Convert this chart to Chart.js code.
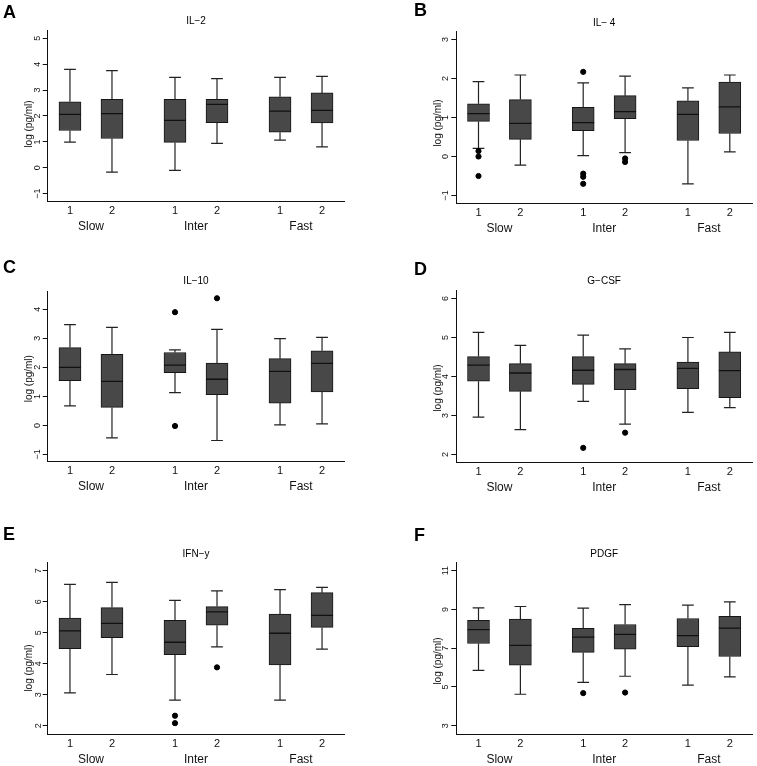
<!DOCTYPE html>
<html lang="en">
<head>
<meta charset="UTF-8">
<title>Cytokines by speed group</title>
<script src="https://cdn.jsdelivr.net/npm/chart.js@4.4.1/dist/chart.umd.min.js"></script>
<style>
  body { margin: 0; background: #fff; }
  #page { position: relative; width: 757px; height: 766px; overflow: hidden; }
  .panel { position: absolute; }
  .letter { position: absolute; font: bold 18px "Liberation Sans", Arial, sans-serif; line-height: 18px; color: #000; }
</style>
</head>
<body>
<div id="page">
  <div class="panel" style="left:0;top:0;width:378px;height:255px"><canvas id="cA"></canvas></div>
  <div class="panel" style="left:378px;top:0;width:379px;height:255px"><canvas id="cB"></canvas></div>
  <div class="panel" style="left:0;top:255px;width:378px;height:255px"><canvas id="cC"></canvas></div>
  <div class="panel" style="left:378px;top:255px;width:379px;height:255px"><canvas id="cD"></canvas></div>
  <div class="panel" style="left:0;top:510px;width:378px;height:256px"><canvas id="cE"></canvas></div>
  <div class="panel" style="left:378px;top:510px;width:379px;height:256px"><canvas id="cF"></canvas></div>

  <div class="letter" style="left:3px;top:3px">A</div>
  <div class="letter" style="left:414px;top:1px">B</div>
  <div class="letter" style="left:3px;top:258px">C</div>
  <div class="letter" style="left:414px;top:260px">D</div>
  <div class="letter" style="left:3px;top:525px">E</div>
  <div class="letter" style="left:414px;top:526px">F</div>
</div>

<script>
    // positions des boites sur l'axe x (2 par groupe)
    const positions = [1, 2, 3.5, 4.5, 6, 7];
    const subLabels = ['1', '2', '1', '2', '1', '2'];
    const groups = ['Slow', 'Inter', 'Fast'];
    const groupPos = [1.5, 4, 6.5];

    // [moustache bas, Q1, mediane, Q3, moustache haut]
    const il2 = [
        [0.99, 1.44, 2.06, 2.55, 3.80],
        [-0.17, 1.13, 2.09, 2.64, 3.75],
        [-0.10, 0.98, 1.83, 2.64, 3.49],
        [0.94, 1.74, 2.45, 2.64, 3.44],
        [1.07, 1.37, 2.19, 2.74, 3.49],
        [0.81, 1.73, 2.22, 2.89, 3.53]
    ];
    const il2Out = [[], [], [], [], [], []];
    const il2Ticks = [-1, 0, 1, 2, 3, 4, 5];

    const il4 = [
        [0.21, 0.90, 1.10, 1.35, 1.92],
        [-0.22, 0.44, 0.85, 1.46, 2.09],
        [0.02, 0.66, 0.87, 1.26, 1.89],
        [0.10, 0.97, 1.15, 1.56, 2.06],
        [-0.70, 0.41, 1.08, 1.43, 1.76],
        [0.12, 0.59, 1.27, 1.91, 2.09]
    ];
    const il4Out = [[0.14, 0.0, -0.50], [], [2.17, -0.44, -0.52, -0.70], [-0.05, -0.14], [], []];
    const il4Ticks = [-1, 0, 1, 2, 3];

    const il10 = [
        [0.67, 1.54, 2.00, 2.68, 3.47],
        [-0.43, 0.62, 1.52, 2.45, 3.38],
        [1.13, 1.82, 2.08, 2.51, 2.60],
        [-0.52, 1.06, 1.59, 2.15, 3.31],
        [0.02, 0.77, 1.86, 2.30, 2.99],
        [0.05, 1.15, 2.14, 2.57, 3.03]
    ];
    const il10Out = [[], [], [3.90, -0.02], [4.38], [], []];
    const il10Ticks = [-1, 0, 1, 2, 3, 4];

    const gcsf = [
        [2.96, 3.88, 4.29, 4.51, 5.13],
        [2.64, 3.62, 4.09, 4.33, 4.80],
        [3.36, 3.80, 4.16, 4.51, 5.06],
        [2.78, 3.66, 4.18, 4.33, 4.71],
        [3.08, 3.69, 4.21, 4.37, 5.00],
        [3.20, 3.46, 4.15, 4.63, 5.13]
    ];
    const gcsfOut = [[], [], [2.17], [2.56], [], []];
    const gcsfTicks = [2, 3, 4, 5, 6];

    const ifn = [
        [3.06, 4.48, 5.06, 5.47, 6.56],
        [3.65, 4.84, 5.30, 5.81, 6.62],
        [2.82, 4.29, 4.69, 5.40, 6.04],
        [4.54, 5.24, 5.67, 5.84, 6.35],
        [2.82, 3.96, 4.98, 5.60, 6.39],
        [4.47, 5.17, 5.56, 6.29, 6.46]
    ];
    const ifnOut = [[], [], [2.32, 2.08], [3.88], [], []];
    const ifnTicks = [2, 3, 4, 5, 6, 7];

    const pdgf = [
        [5.85, 7.24, 7.96, 8.43, 9.08],
        [4.62, 6.12, 7.14, 8.50, 9.15],
        [5.23, 6.78, 7.57, 8.02, 9.07],
        [5.55, 6.95, 7.71, 8.22, 9.25],
        [5.09, 7.07, 7.65, 8.53, 9.22],
        [5.52, 6.57, 8.03, 8.64, 9.39]
    ];
    const pdgfOut = [[], [], [4.68], [4.71], [], []];
    const pdgfTicks = [3, 5, 7, 9, 11];

    // mise en page de chaque panneau (coordonnees de la page)
    const panneaux = [
        { id: 'cA', titre: 'IL\u22122', box: il2, out: il2Out, ticks: il2Ticks, min: -1.31, max: 5.32,
          cx: 0, cy: 0, w: 378, h: 255, L: 47.7, T: 30, R: 344.3, B: 201.7, titreY: 21.7, pad: 0, yTitreY: 124 },
        { id: 'cB', titre: 'IL\u2212 4', box: il4, out: il4Out, ticks: il4Ticks, min: -1.2, max: 3.2,
          cx: 378, cy: 0, w: 379, h: 255, L: 456.3, T: 31.7, R: 752.3, B: 203.3, titreY: 23.3, pad: 1, yTitreY: 123 },
        { id: 'cC', titre: 'IL\u221210', box: il10, out: il10Out, ticks: il10Ticks, min: -1.25, max: 4.63,
          cx: 0, cy: 255, w: 378, h: 255, L: 47.7, T: 291, R: 344.3, B: 461.7, titreY: 281.7, pad: 0, yTitreY: 378.7 },
        { id: 'cD', titre: 'G\u2212CSF', box: gcsf, out: gcsfOut, ticks: gcsfTicks, min: 1.8, max: 6.2,
          cx: 378, cy: 255, w: 379, h: 255, L: 456.3, T: 290.7, R: 752.3, B: 462.3, titreY: 281, pad: 3, yTitreY: 388 },
        { id: 'cE', titre: 'IFN\u2212y', box: ifn, out: ifnOut, ticks: ifnTicks, min: 1.73, max: 7.27,
          cx: 0, cy: 510, w: 378, h: 256, L: 47.7, T: 562.3, R: 344.3, B: 734, titreY: 554.3, pad: 2, yTitreY: 668 },
        { id: 'cF', titre: 'PDGF', box: pdgf, out: pdgfOut, ticks: pdgfTicks, min: 2.57, max: 11.43,
          cx: 378, cy: 510, w: 379, h: 256, L: 456.3, T: 562.3, R: 752.3, B: 734, titreY: 554.3, pad: 1, yTitreY: 661 }
    ];

    const capHalf = 0.14;
    const boxHalf = 0.262;
    const fonte = '"Liberation Sans", Arial, sans-serif';

    function moustaches(box) {
        let pts = [];
        box.forEach((b, i) => {
            const x = positions[i];
            pts.push({ x: x, y: b[3] }, { x: x, y: b[4] }, { x: x, y: null });
            pts.push({ x: x - capHalf, y: b[4] }, { x: x + capHalf, y: b[4] }, { x: x, y: null });
            pts.push({ x: x, y: b[1] }, { x: x, y: b[0] }, { x: x, y: null });
            pts.push({ x: x - capHalf, y: b[0] }, { x: x + capHalf, y: b[0] }, { x: x, y: null });
        });
        return pts;
    }

    function medianes(box) {
        let pts = [];
        box.forEach((b, i) => {
            const x = positions[i];
            pts.push({ x: x - boxHalf, y: b[2] }, { x: x + boxHalf, y: b[2] }, { x: x, y: null });
        });
        return pts;
    }

    function pointsAberrants(out) {
        let pts = [];
        out.forEach((vals, i) => {
            vals.forEach(v => pts.push({ x: positions[i], y: v }));
        });
        return pts;
    }

    // titre de l'axe y, pas toujours centre sur l'axe dans l'original
    const tituloY = {
        id: 'tituloY',
        afterDraw(chart, args, opts) {
            const c = chart.ctx;
            const ys = chart.scales.y;
            c.save();
            c.translate(ys.right - 18.5, opts.yc);
            c.rotate(-Math.PI / 2);
            c.textAlign = 'center';
            c.textBaseline = 'middle';
            c.fillStyle = '#111';
            c.font = '10px ' + fonte;
            c.fillText(opts.texte, 0, 0);
            c.restore();
        }
    };

    function plotarPainel(p) {
        const yLarg = p.L - p.cx;
        const xH = 15;
        const x2H = (p.cy + p.h) - p.B - xH;
        const tTop = p.titreY - p.cy - 6;
        const tBot = (p.T - p.cy) - tTop - 12;

        const ctx = document.getElementById(p.id).getContext('2d');
        new Chart(ctx, {
            type: 'bar',
            data: {
                datasets: [
                    {
                        type: 'bar',
                        data: p.box.map((b, i) => ({ x: positions[i], y: [b[1], b[3]] })),
                        backgroundColor: '#484848',
                        borderColor: '#161616',
                        borderWidth: 1,
                        borderSkipped: false,
                        barThickness: 22,
                        order: 2
                    },
                    {
                        type: 'line',
                        data: moustaches(p.box),
                        borderColor: '#222',
                        borderWidth: 1.2,
                        pointRadius: 0,
                        spanGaps: false,
                        tension: 0,
                        order: 3
                    },
                    {
                        type: 'line',
                        data: medianes(p.box),
                        borderColor: '#111',
                        borderWidth: 1.3,
                        pointRadius: 0,
                        spanGaps: false,
                        tension: 0,
                        order: 1
                    },
                    {
                        type: 'scatter',
                        data: pointsAberrants(p.out),
                        backgroundColor: '#000',
                        borderColor: '#000',
                        pointRadius: 2.6,
                        order: 0
                    }
                ]
            },
            plugins: [tituloY],
            options: {
                responsive: true,
                maintainAspectRatio: false,
                devicePixelRatio: 1,
                animation: false,
                events: [],
                layout: { padding: { left: 0, top: 0, bottom: 0, right: (p.cx + p.w) - p.R } },
                plugins: {
                    legend: { display: false },
                    tooltip: { enabled: false },
                    tituloY: { texte: 'log (pg/ml)', yc: p.yTitreY - p.cy },
                    title: {
                        display: true,
                        text: p.titre,
                        fullSize: false,
                        color: '#000',
                        font: { family: fonte, size: 10, weight: 'normal' },
                        padding: { top: tTop, bottom: tBot }
                    }
                },
                scales: {
                    x: {
                        type: 'linear',
                        position: 'bottom',
                        min: 0.47,
                        max: 7.53,
                        offset: false,
                        weight: 0,
                        grid: { display: false, drawTicks: false },
                        border: { display: true, color: '#111', width: 1 },
                        afterBuildTicks: s => { s.ticks = positions.map(v => ({ value: v })); },
                        afterFit: s => { s.height = xH; },
                        ticks: {
                            autoSkip: false,
                            maxRotation: 0,
                            padding: 3,
                            color: '#111',
                            font: { family: fonte, size: 11 },
                            callback: (v, i) => subLabels[i]
                        }
                    },
                    x2: {
                        type: 'linear',
                        position: 'bottom',
                        min: 0.47,
                        max: 7.53,
                        offset: false,
                        weight: 1,
                        grid: { display: false, drawTicks: false },
                        border: { display: false },
                        afterBuildTicks: s => { s.ticks = groupPos.map(v => ({ value: v })); },
                        afterFit: s => { s.height = x2H; },
                        ticks: {
                            autoSkip: false,
                            maxRotation: 0,
                            padding: 3,
                            color: '#111',
                            font: { family: fonte, size: 12 },
                            callback: (v, i) => groups[i]
                        }
                    },
                    y: {
                        type: 'linear',
                        position: 'left',
                        min: p.min,
                        max: p.max,
                        grid: { display: true, drawOnChartArea: false, drawTicks: true, tickLength: 5, color: '#111' },
                        border: { display: true, color: '#111', width: 1 },
                        afterBuildTicks: s => { s.ticks = p.ticks.map(v => ({ value: v })); },
                        afterFit: s => { s.width = yLarg; },
                        ticks: {
                            minRotation: 90,
                            maxRotation: 90,
                            crossAlign: 'center',
                            padding: p.pad,
                            color: '#111',
                            font: { family: fonte, size: 9 },
                            callback: v => (v < 0 ? '\u2212' + Math.abs(v) : String(v))
                        }
                    }
                }
            }
        });
    }

    panneaux.forEach(p => plotarPainel(p));
</script>
</body>
</html>
